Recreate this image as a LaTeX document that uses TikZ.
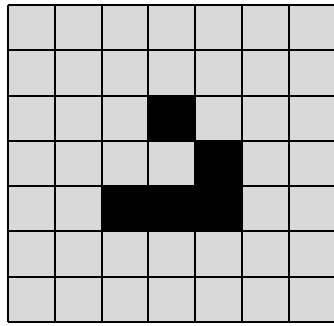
\documentclass[tikz,border=0pt]{standalone}
\definecolor{cellgray}{HTML}{D9D9D9}
\tikzset{gridline/.style={line width=2pt,black}, filled/.style={fill=black}}
\begin{document}
\begin{tikzpicture}[x=1pt,y=-1pt]
\useasboundingbox (0,0) rectangle (334,325);
\clip (0,0) rectangle (334,325);
\fill[white] (0,0) rectangle (334,325);
\def\cw{46.8}
\def\ch{45.286}
\fill[cellgray] (8,5) rectangle ({8+8*\cw},{5+7*\ch});
% black cells
\foreach \c/\r in {3/2,4/3,2/4,3/4,4/4}
  \fill[filled] ({8+\c*\cw},{5+\r*\ch}) rectangle ({8+(\c+1)*\cw},{5+(\r+1)*\ch});
\foreach \i in {0,...,8}
  \draw[gridline] ({8+\i*\cw},5) -- ({8+\i*\cw},{5+7*\ch});
\foreach \j in {0,...,7}
  \draw[gridline] (8,{5+\j*\ch}) -- ({8+8*\cw},{5+\j*\ch});
\end{tikzpicture}
\end{document}
